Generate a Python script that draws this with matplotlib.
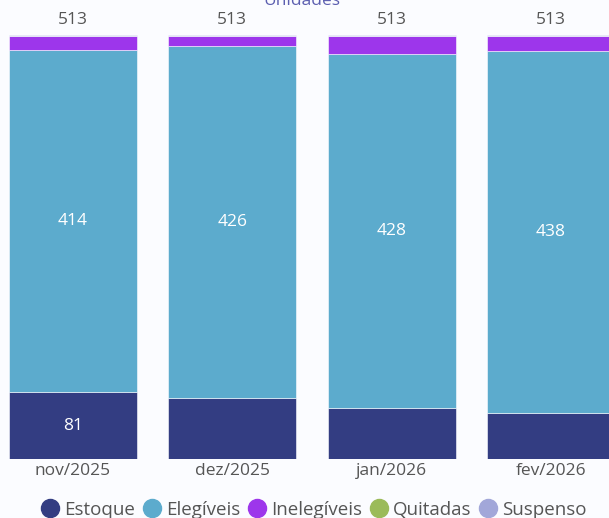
import matplotlib
matplotlib.use("Agg")
import matplotlib.pyplot as plt
from matplotlib.lines import Line2D

# data
months = ["nov/2025", "dez/2025", "jan/2026", "fev/2026"]
estoque = [81, 74, 62, 56]
elegiveis = [414, 426, 428, 438]
inelegiveis = [17, 12, 22, 18]
quitadas = [0, 0, 0, 0]
suspenso = [1, 1, 1, 1]
totals = [513, 513, 513, 513]

series_names = ["Estoque", "Elegíveis", "Inelegíveis", "Quitadas", "Suspenso"]
series_colors = ["#333d82", "#5cabcd", "#9d36eb", "#9bbb59", "#a2a7d9"]

plt.rcParams["font.family"] = ["Open Sans", "DejaVu Sans"]
bg = "#fbfcff"
text_grey = "#555555"

fig = plt.figure(figsize=(6.09, 5.18), dpi=100, facecolor=bg)
ax = fig.add_axes([0, 59 / 518, 1, 424 / 518])
ax.set_facecolor(bg)

x = list(range(len(months)))
width = 0.803
stacks = [estoque, elegiveis, inelegiveis, quitadas, suspenso]
bottom = [0] * len(months)
for vals, col in zip(stacks, series_colors):
    ax.bar(x, vals, width, bottom=bottom, color=col, edgecolor=bg, linewidth=0.4)
    bottom = [b + v for b, v in zip(bottom, vals)]

# labels inside the segments
for i in x:
    ax.text(i, estoque[i] + elegiveis[i] / 2, str(elegiveis[i]), ha="center",
            va="center", color="white", fontsize=12.5)
    ax.text(i, totals[i] + 8, str(totals[i]), ha="center", va="bottom",
            color=text_grey, fontsize=12.5, clip_on=False)
ax.text(0, estoque[0] / 2, str(estoque[0]), ha="center", va="center",
        color="white", fontsize=12.5)

ax.set_xlim(-73 / 159.3, 536 / 159.3)
ax.set_ylim(0, 513)
ax.set_xticks(x)
ax.set_xticklabels(months, fontsize=12.5, color=text_grey)
ax.tick_params(axis="x", length=0, pad=3)
ax.set_yticks([])
for s in ax.spines.values():
    s.set_visible(False)

fig.text(302 / 609, 1 - 1 / 518, "Unidades", ha="center", va="center",
         color="#5c5fb0", fontsize=12.5)

handles = [Line2D([], [], marker="o", linestyle="", markersize=13,
                  markerfacecolor=c, markeredgecolor=c) for c in series_colors]
fig.legend(handles, series_names, loc="center", bbox_to_anchor=(314 / 609, 8 / 518),
           ncol=5, frameon=False, fontsize=13.5, labelcolor=text_grey,
           handletextpad=0.3, columnspacing=0.45, handlelength=0.9)

fig.savefig("out.png", dpi=100, facecolor=bg)
